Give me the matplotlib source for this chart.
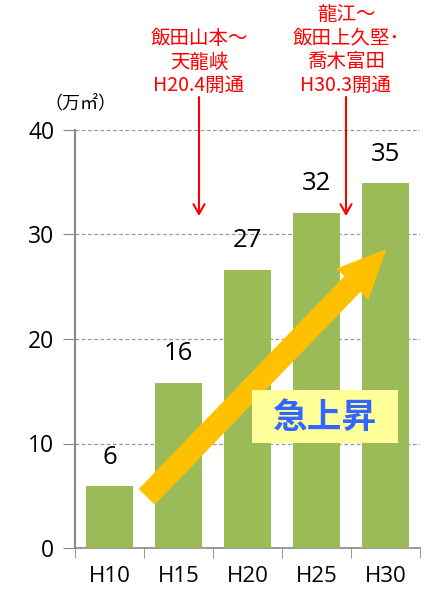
import matplotlib
matplotlib.use("Agg")
import matplotlib.pyplot as plt
from matplotlib.patches import FancyArrowPatch, Rectangle

plt.rcParams['font.family'] = ['Noto Sans CJK JP', 'DejaVu Sans']

categories = ["H10", "H15", "H20", "H25", "H30"]
values = [5.9, 15.8, 26.6, 32.1, 34.9]
value_labels = ["6", "16", "27", "32", "35"]
yticks = [0, 10, 20, 30, 40]
note1 = "飯田山本～\n天龍峡\nH20.4開通"
note2 = "龍江～\n飯田上久堅･\n喬木富田\nH30.3開通"

fig = plt.figure(figsize=(4.32, 5.90), dpi=100)
ax = fig.add_axes([75/432, 1-548/590, 345/432, 418/590])

x = list(range(len(categories)))
ax.bar(x, values, width=0.67, color="#9BBB59", zorder=3)
ax.set_xlim(-0.5, 4.5)
ax.set_ylim(0, 40)
ax.set_yticks(yticks)
ax.set_yticklabels([str(t) for t in yticks], fontsize=16.5, family=['Open Sans', 'DejaVu Sans'])
ax.set_xticks(x)
ax.set_xticklabels(categories, fontsize=16, family=['Open Sans', 'DejaVu Sans'])
ax.set_xticks([i - 0.5 for i in range(len(categories) + 1)], minor=True)
ax.tick_params(axis='x', which='major', length=0, pad=13)
ax.tick_params(axis='x', which='minor', length=7, color="#888888", direction='out')
ax.tick_params(axis='y', length=9, color="#888888", pad=6)
ax.grid(axis='y', color="#999999", linestyle=(0, (3, 2)), linewidth=0.9, zorder=0)
for s in ['top', 'right']:
    ax.spines[s].set_visible(False)
ax.spines['left'].set_color("#888888")
ax.spines['left'].set_linewidth(1.5)
ax.spines['bottom'].set_color("#888888")
ax.spines['bottom'].set_linewidth(1.2)

for xi, v, lab in zip(x, values, value_labels):
    ax.text(xi, v + 1.6, lab, ha='center', va='bottom', fontsize=18.5,
            family=['Open Sans', 'DejaVu Sans'], zorder=5)

# big orange arrow
arr = FancyArrowPatch((0.54, 4.9), (4.01, 28.6),
                      arrowstyle="simple,head_width=2.3,head_length=2.5,tail_width=1.15",
                      mutation_scale=14, color="#FFC000", zorder=6, linewidth=0,
                      shrinkA=0, shrinkB=0)
ax.add_patch(arr)

# text box
ax.add_patch(Rectangle((2.065, 10.05), 2.116, 5.07, facecolor="#FFFF99",
                       edgecolor="none", zorder=7))
ax.text(3.12, 12.5, "急上昇", ha='center', va='center', fontsize=25, fontweight='bold',
        color="#3366FF", zorder=8)

# red annotations
fig.text(199/432, 1-62/590, note1, ha='center', va='center', color="#FF0000",
         fontsize=14, linespacing=1.15)
fig.text(346/432, 1-50/590, note2, ha='center', va='center', color="#FF0000",
         fontsize=14, linespacing=1.15)
for px in (199, 346):
    fig.add_artist(FancyArrowPatch((px/432, 1-97/590), (px/432, 1-216/590),
                                   transform=fig.transFigure,
                                   arrowstyle="->,head_width=4,head_length=7",
                                   color="#FF0000", linewidth=1.5, mutation_scale=1,
                                   shrinkA=0, shrinkB=0))

fig.text(44/432, 1-103/590, "（万㎡）", ha='left', va='center', fontsize=13)

fig.savefig("out.png", dpi=100)
